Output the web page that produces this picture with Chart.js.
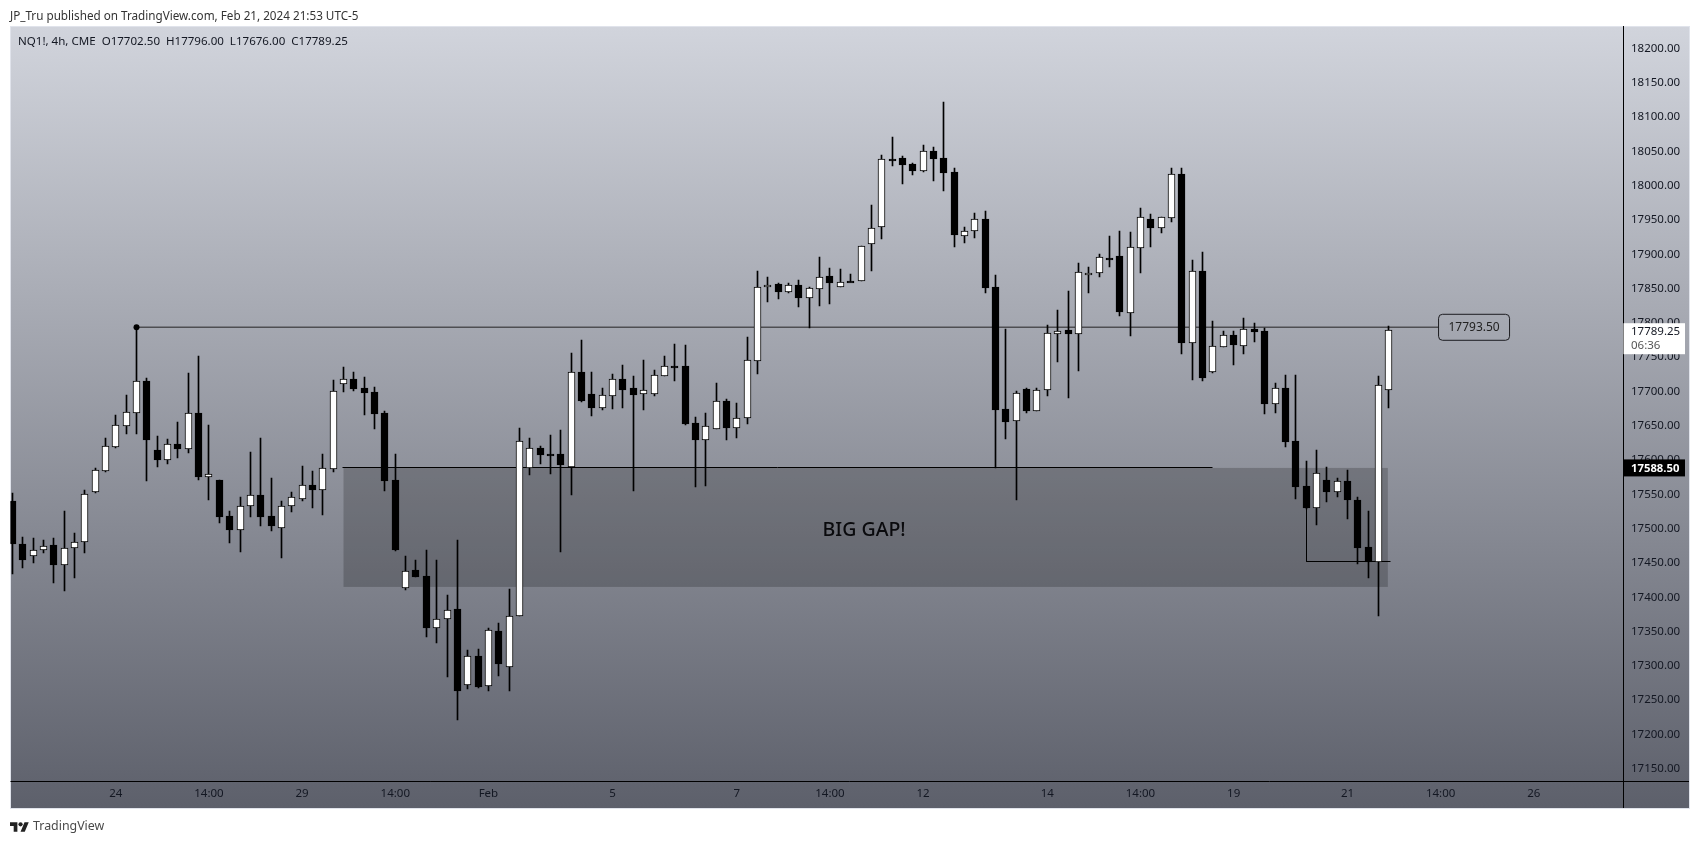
<!DOCTYPE html>
<html>
<head>
<meta charset="utf-8">
<script src="https://cdn.jsdelivr.net/npm/chart.js@4"></script>
<style>
html,body{margin:0;padding:0;background:#fff;overflow:hidden;width:1699px;height:844px}
#frame{position:absolute;left:10px;top:26px;width:1678px;height:781px;border:1px solid #e0e3eb;background:linear-gradient(180deg,#d1d4dc 0%,#5d606b 100%)}
canvas{position:absolute;left:0;top:0}
.t{position:absolute;font-family:"Noto Sans",sans-serif;white-space:nowrap}
#head{left:10px;top:7px;font-size:11.7px;color:#333;line-height:16px}
#foot{left:33px;top:817px;font-size:12.4px;color:#4a4a4a;line-height:18px}
#logo{position:absolute;left:10px;top:820px}
</style>
</head>
<body>
<div id="frame"></div>
<canvas id="c" width="1699" height="844"></canvas>
<div class="t" id="head">JP_Tru published on TradingView.com, Feb 21, 2024 21:53 UTC-5</div>
<svg id="logo" width="19" height="14" viewBox="0 0 36 26"><path fill="#222" d="M14 22H7V11H0V4h14v18zM28 22h-8l7.5-18h8L28 22z"/><circle fill="#222" cx="20" cy="8" r="4"/></svg>
<div class="t" id="foot">TradingView</div>
<script>
const opens=[17539.6,17478.3,17460.8,17469.5,17476.8,17447.7,17472.4,17481.2,17552.7,17584.3,
17619.3,17649.9,17668.9,17714.6,17614.4,17600.3,17623.2,17616.4,17668.4,17575.5,
17570.7,17517.7,17498.2,17533.2,17548.3,17517.7,17501.1,17533.2,17543.4,17562.9,
17556.6,17587.2,17711.2,17718,17704.9,17699,17668.4,17570.7,17413.6,17439.4,
17430.6,17355.7,17368.9,17383.5,17272.6,17314.9,17271.1,17351.4,17298.8,17373.2,
17588.2,17617.9,17608.1,17608.1,17589.2,17728.2,17695.6,17676.2,17693.7,17717.5,
17704.9,17696.6,17696.6,17722.9,17736.5,17737,17653.8,17629.5,17644.6,17685.9,
17647,17661.6,17744.7,17851.7,17856,17845.4,17855.1,17836.6,17849.8,17867.8,
17852.7,17860.5,17861.4,17914.5,17939.3,18038.5,18039.9,18031.7,18021.9,18050.1,
18039.9,18019.5,17927.1,17933.4,17950.9,17851.7,17673.8,17656.2,17702.9,17671.8,
17702.4,17784.1,17789,17784.1,17869.2,17873.1,17895,17897,17814.8,17909.6,
17951,17938.8,17953.4,18017.1,17771,17875,17728.7,17765.2,17781.7,17766.6,
17791,17787.9,17681.9,17704.8,17627.5,17561.8,17530.2,17571.5,17553.5,17570.1,
17542.4,17472.5,17452,17702.5];
const highs=[17551.7,17488.5,17487,17484,17487,17525.5,17492.9,17557,17587.7,17632,
17665.5,17694.6,17793.5,17719.5,17634.8,17630.5,17655.3,17726.7,17751.5,17650.9,
17570.7,17526.4,17545.9,17611.5,17632,17573.6,17540,17553.2,17591.1,17583.8,
17608.6,17716.5,17735.5,17727.7,17720.4,17706.3,17670.8,17608.6,17460.8,17454,
17468.6,17454,17402.9,17483.2,17323.6,17325.1,17355.7,17363,17412.6,17646.5,
17632,17619.8,17635.8,17643.1,17755.9,17774.9,17728.2,17704.9,17725.3,17738.4,
17722.4,17745.7,17731.1,17751.6,17769.1,17767.6,17662.1,17668.4,17712.2,17688.4,
17682.5,17778.8,17875.6,17866.3,17858.5,17858,17861.9,17852.7,17896,17880,
17878.5,17871.2,17912.5,17971.4,18044.8,18071,18043.3,18032.6,18059.4,18056,
18122.1,18025.3,17939.7,17959.7,17963.1,17869.2,17791,17701,17704.4,17704.4,
17796.8,17818.7,17846.4,17887.2,17880.9,17900.4,17926.6,17933.9,17932,17967.5,
17958.2,17953.9,18025.3,18025.3,17891.6,17902.8,17802.1,17787.5,17787.5,17806.5,
17799.2,17791.9,17711.6,17723.3,17723.3,17598.3,17614.3,17589.5,17574.5,17585.2,
17546.7,17525.3,17722.3,17796];
const lows=[17434,17442.8,17450,17464.7,17420.4,17409.2,17428.2,17464.7,17552,17583,
17617.8,17637.8,17637.8,17569.7,17590.1,17594,17602.7,17610.5,17571.1,17541.5,
17508.4,17478.8,17465.6,17516.7,17503.6,17496.3,17456.9,17524,17540,17529.8,
17520.1,17582.3,17699,17701,17665.5,17645,17554.6,17467.6,17410.7,17429.7,
17341.6,17333.4,17283.3,17221,17266.3,17267.7,17263.3,17284.7,17263.3,17373.2,
17578.5,17594,17579.9,17465.6,17549.3,17684.5,17664,17672.8,17674.2,17675.7,
17554.6,17672.8,17693.7,17722.9,17715.1,17650.9,17561,17562.4,17644.6,17629,
17632.4,17652.9,17725.8,17830.8,17835.2,17843.9,17823,17792.4,17824.5,17827.4,
17852.7,17860,17861.4,17875.6,17922.2,18028.7,18002.5,18015.6,18020.4,18006.9,
17992.3,17910.6,17916.4,17923.7,17843.5,17587.7,17630.5,17541.9,17668.9,17671.8,
17693.7,17742.8,17690.8,17729.7,17843.5,17867.3,17881.4,17810.4,17781.2,17873.1,
17910.6,17931.5,17947,17754.5,17716.5,17715.5,17727.2,17765.2,17738.4,17754.5,
17772.5,17666.9,17668.8,17619.2,17542.9,17529,17505.4,17538.5,17546.2,17514.2,
17448.5,17427.7,17372.3,17676];
const closes=[17477.8,17454.5,17469,17474.9,17447.2,17472,17480.7,17551.2,17584.8,17619.8,
17650.4,17669.4,17714.6,17629.5,17600.3,17622.7,17615.9,17667.9,17575,17578.9,
17516.7,17498.2,17533.7,17548.3,17516.7,17503.6,17533.7,17545.4,17562.9,17556.6,
17587.7,17700,17717.5,17703.4,17698,17667.4,17569.2,17468.6,17438.9,17429.7,
17355.3,17368.4,17381.5,17263.3,17314.4,17268.7,17352.8,17302.7,17373.2,17627.1,
17617.9,17607.6,17606.2,17593,17727.7,17685.9,17676.2,17694.2,17717.5,17702,
17695.2,17701.5,17723.4,17736.5,17735.5,17652.4,17629.5,17649,17685.4,17647,
17660.6,17745.2,17851.7,17855.6,17845.4,17854.6,17836.6,17850.3,17867.3,17858.5,
17860,17860,17912.5,17938.8,18038.5,18037.5,18030.7,18021.9,18050.1,18039.4,
18019,17928.6,17933.4,17951.9,17851.2,17673.3,17655.7,17698,17671.8,17702.4,
17784.6,17788.5,17784.1,17873.6,17872.1,17895.5,17894.5,17816.2,17910.1,17953.9,
17938.8,17953.9,18016.6,17771,17875,17720,17765.7,17781.7,17768.1,17790.5,
17786.6,17681.4,17704.3,17626,17560.8,17529.7,17581.8,17553.5,17569.6,17541.9,
17471.9,17452,17708.7,17789.25];

const yTickValues=[17150,17200,17250,17300,17350,17400,17450,17500,17550,17600,17650,17700,17750,17800,17850,17900,17950,18000,18050,18100,18150,18200];
const xTickIndex=[10,19,28,37,46,58,70,79,88,100,109,118,129,138,147];
const xTickLabels=['24','14:00','29','14:00','Feb','5','7','14:00','12','14','14:00','19','21','14:00','26'];

const levelLine=[[12,17793.5],[137.8,17793.5]];
const gapTopLine=[[31.9,17588.5],[116,17588.5]];
const cornerLine=[[125,17530],[125,17452],[133.2,17452]];
const gapZone={x0:32,x1:132.9,top:17588.5,bottom:17415};
const gapNote={text:'BIG GAP!',x:82.3,y:17497.5};
const levelValue=17793.5, lastPrice=17789.25, countdown='06:36', refPrice=17588.5;
const titleParts=['NQ1!, 4h, CME','O17702.50','H17796.00','L17676.00','C17789.25'];

const FONT='"Noto Sans",sans-serif';
const idx=opens.map((_,i)=>i);
const isUp=i=>closes[i]>=opens[i];
const pts=a=>a.map(p=>({x:p[0],y:p[1]}));
const lineDs=(a,color,w,r)=>({type:'line',data:pts(a),borderColor:color,borderWidth:w,
  pointRadius:r||0,pointBackgroundColor:'#000',pointBorderWidth:0,order:3,fill:false,tension:0});

const overlay={
 id:'overlay',
 beforeDatasetDraw(ch,args){
  // snap marks to whole device pixels so that edges stay crisp
  if(args.meta.type==='line'){
    if(args.index>=3)args.meta.data.forEach(el=>{el.x=Math.floor(el.x)+.5;el.y=Math.floor(el.y)+.5;});
    return;
  }
  const minH=args.index===0?2:0;
  args.meta.data.forEach(el=>{
    el.x=Math.floor(el.x)+.5;
    const t=Math.round(Math.min(el.y,el.base));
    let b=Math.round(Math.max(el.y,el.base));
    if(b-t<minH)b=t+minH;
    el.y=t;el.base=b;
  });
 },
 beforeDatasetsDraw(ch){
  const {ctx,scales:{x,y}}=ch;
  ctx.save();ctx.fillStyle='rgba(0,0,0,0.2)';
  const l=x.getPixelForValue(gapZone.x0),r=x.getPixelForValue(gapZone.x1),
        t=y.getPixelForValue(gapZone.top),b=y.getPixelForValue(gapZone.bottom);
  ctx.fillRect(l,t,r-l,b-t);
  ctx.restore();
 },
 afterDatasetsDraw(ch){
  const {ctx,chartArea:a,scales:{x,y}}=ch;
  ctx.save();
  ctx.strokeStyle='#000';ctx.lineWidth=1;
  ctx.beginPath();
  ctx.moveTo(a.left,Math.round(a.bottom)+.5);ctx.lineTo(ch.width-10,Math.round(a.bottom)+.5);
  ctx.moveTo(Math.round(a.right)+.5,a.top);ctx.lineTo(Math.round(a.right)+.5,ch.height-36);
  ctx.stroke();
  ctx.fillStyle='#0a0a0d';ctx.font='500 19.5px '+FONT;ctx.textAlign='center';ctx.textBaseline='middle';
  ctx.fillText(gapNote.text,x.getPixelForValue(gapNote.x),y.getPixelForValue(gapNote.y));
  const lx=x.getPixelForValue(levelLine[1][0]),ly=y.getPixelForValue(levelValue);
  ctx.beginPath();ctx.roundRect(lx,ly-13,71,26,4);
  ctx.strokeStyle='#1c1c20';ctx.lineWidth=1;ctx.stroke();
  ctx.fillStyle='#222';ctx.font='12px '+FONT;
  ctx.fillText(levelValue.toFixed(2),lx+35.5,ly);
  const ax=a.right,pad=8;
  const py=y.getPixelForValue(lastPrice);
  ctx.fillStyle='#fff';ctx.fillRect(ax+.5,py-7,61.5,31);
  ctx.textAlign='left';ctx.fillStyle='#131722';ctx.font='11.5px '+FONT;
  ctx.fillText(lastPrice.toFixed(2),ax+pad,py+2);
  ctx.fillStyle='#555';ctx.fillText(countdown,ax+pad,py+16);
  const ry=y.getPixelForValue(refPrice);
  ctx.fillStyle='#000';ctx.fillRect(ax+.5,ry-8.5,61.5,17);
  ctx.fillStyle='#fff';ctx.font='bold 11.3px '+FONT;
  ctx.fillText(refPrice.toFixed(2),ax+pad,ry+.5);
  ctx.fillStyle='#131722';ctx.font='11.55px '+FONT;
  ctx.fillText(titleParts.join('  '),18,42);
  ctx.restore();
 }
};

new Chart(document.getElementById('c'),{
 type:'bar',
 data:{datasets:[
  {label:'body',order:1,grouped:false,barThickness:7,borderWidth:1,borderSkipped:false,
   data:idx.map(i=>({x:i,y:[opens[i],closes[i]]})),
   backgroundColor:idx.map(i=>isUp(i)?'#fff':'#000'),borderColor:'#000'},
  {label:'wick',order:2,grouped:false,barThickness:1,borderWidth:0,
   data:idx.map(i=>({x:i,y:[lows[i],highs[i]]})),backgroundColor:'#000'},
  lineDs(levelLine,'#4e4e52',1.6,[3,0]),
  lineDs(gapTopLine,'#000',1),
  lineDs(cornerLine,'#000',1)
 ]},
 plugins:[overlay],
 options:{
  responsive:false,animation:false,devicePixelRatio:1,
  layout:{padding:{left:10.5,top:26,right:0,bottom:0}},
  plugins:{legend:{display:false},tooltip:{enabled:false}},
  scales:{
   x:{type:'linear',min:-0.174,max:155.62,offset:false,
      grid:{display:false,drawTicks:false},border:{display:false},
      afterBuildTicks:s=>{s.ticks=xTickIndex.map(v=>({value:v}));},
      afterFit:s=>{s.height=63;},
      ticks:{autoSkip:false,maxRotation:0,padding:6,color:'#131722',font:{family:'Noto Sans',size:11.5},
        callback:v=>xTickLabels[xTickIndex.indexOf(v)]??''}},
   y:{type:'linear',position:'right',min:17132.1,max:18232.7,
      grid:{display:false,drawTicks:false},border:{display:false},
      afterBuildTicks:s=>{s.ticks=yTickValues.map(v=>({value:v}));},
      afterFit:s=>{s.width=76;},
      ticks:{autoSkip:false,padding:8,color:'#131722',font:{family:'Noto Sans',size:11.5},
        callback:v=>Number(v).toFixed(2)}}
  }
 }
});
</script>
</body>
</html>
